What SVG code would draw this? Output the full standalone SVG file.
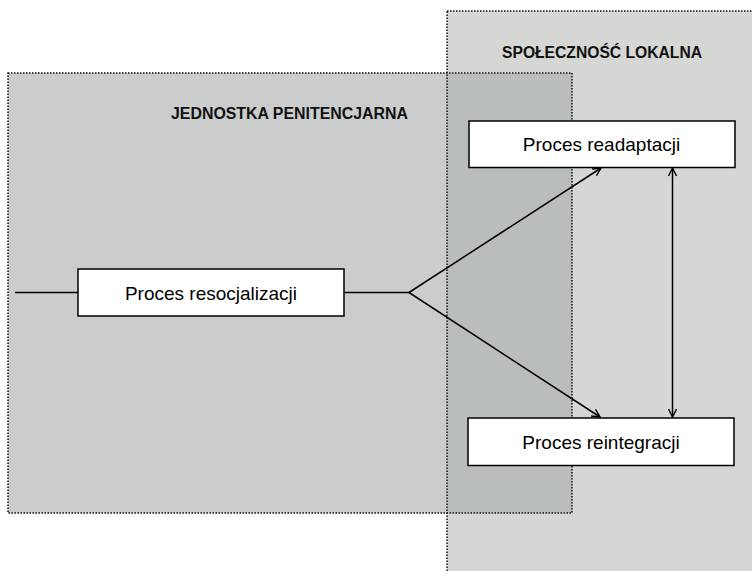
<svg xmlns="http://www.w3.org/2000/svg" width="752" height="571" viewBox="0 0 752 571">
<style>
.area{stroke:#111;stroke-width:1.5;stroke-dasharray:1.5 1.5;fill:none}
.box{fill:#fff;stroke:#000;stroke-width:1.5}
.lbl{font-family:"Liberation Sans",Arial,sans-serif;font-size:19px;fill:#000;text-anchor:middle}
.hd{font-family:"Liberation Sans",Arial,sans-serif;font-size:16px;font-weight:bold;fill:#111;text-anchor:middle}
.ln{stroke:#000;stroke-width:1.5;fill:none}
</style>
<defs>
<marker id="ah" viewBox="0 0 10 10" refX="9" refY="5" markerWidth="10" markerHeight="10" markerUnits="userSpaceOnUse" orient="auto-start-reverse">
<path d="M1,1 L9,5 L1,9" fill="none" stroke="#000" stroke-width="1.4"/>
</marker>
</defs>
<rect width="752" height="571" fill="#fff"/>
<g id="spolecznosc">
<rect x="447" y="11" width="310" height="570" fill="#d5d7d4"/>
</g>
<g id="jednostka">
<rect x="8" y="73" width="564" height="440" fill="#cbcdcc"/>
<rect x="447" y="73" width="125" height="440" fill="#babdbd"/>
</g>
<rect class="area" x="447" y="11" width="310" height="570"/>
<rect class="area" x="8" y="73" width="564" height="440"/>
<text class="hd" x="602" y="57.5" textLength="200" lengthAdjust="spacingAndGlyphs">SPOŁECZNOŚĆ LOKALNA</text>
<text class="hd" x="289.5" y="118.5" textLength="237" lengthAdjust="spacingAndGlyphs">JEDNOSTKA PENITENCJARNA</text>
<g id="connectors">
<line class="ln" x1="15" y1="292.5" x2="78" y2="292.5"/>
<line class="ln" x1="344" y1="292.5" x2="409" y2="292.5"/>
<line class="ln" x1="409" y1="292.5" x2="601" y2="168" marker-end="url(#ah)"/>
<line class="ln" x1="409" y1="292.5" x2="600" y2="417" marker-end="url(#ah)"/>
<line class="ln" x1="672.5" y1="168" x2="672.5" y2="417" marker-start="url(#ah)" marker-end="url(#ah)"/>
</g>
<g id="resocjalizacja">
<rect class="box" x="78" y="269" width="266" height="47"/>
<text class="lbl" x="211" y="299.5">Proces resocjalizacji</text>
</g>
<g id="readaptacja">
<rect class="box" x="469" y="121" width="266" height="46.5"/>
<text class="lbl" x="601.5" y="151">Proces readaptacji</text>
</g>
<g id="reintegracja">
<rect class="box" x="468" y="418" width="266" height="47.5"/>
<text class="lbl" x="601" y="449">Proces reintegracji</text>
</g>
</svg>
